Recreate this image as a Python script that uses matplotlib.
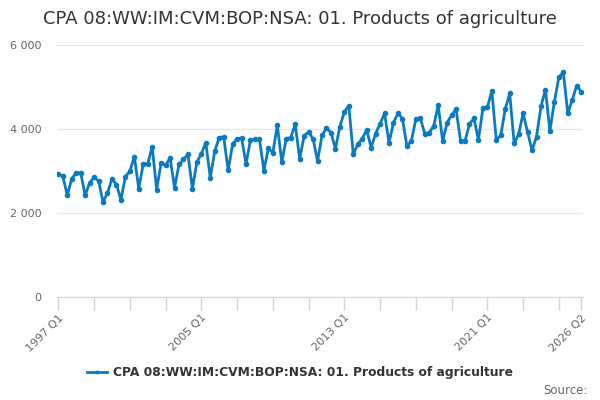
import matplotlib.pyplot as plt
from matplotlib.ticker import FuncFormatter

# quarterly values, 1997 Q1 .. 2026 Q2
values = [
    2935, 2878, 2423, 2823, 2959, 2959, 2423, 2720, 2854, 2768,
    2265, 2480, 2815, 2679, 2320, 2863, 2998, 3342, 2584, 3175,
    3175, 3581, 2560, 3198, 3134, 3318, 2608, 3158, 3278, 3397,
    2584, 3213, 3414, 3677, 2840, 3476, 3797, 3811, 3022, 3636,
    3773, 3787, 3175, 3739, 3756, 3756, 3014, 3541, 3437, 4091,
    3213, 3773, 3797, 4115, 3294, 3835, 3931, 3773, 3237, 3852,
    4019, 3916, 3533, 4059, 4409, 4553, 3397, 3636, 3773, 3979,
    3557, 3892, 4131, 4371, 3677, 4155, 4371, 4251, 3596, 3716,
    4234, 4258, 3892, 3916, 4074, 4569, 3716, 4155, 4330, 4474,
    3716, 3716, 4115, 4258, 3740, 4490, 4514, 4912, 3740, 3852,
    4474, 4849, 3660, 3876, 4371, 3931, 3493, 3820, 4538, 4935,
    3955, 4648, 5232, 5351, 4378, 4696, 5031, 4888,
]
start_year = 1997
quarters = [f"{start_year + i // 4} Q{i % 4 + 1}" for i in range(len(values))]

series_name = "CPA 08:WW:IM:CVM:BOP:NSA: 01. Products of agriculture"
line_color = "#0b7bc1"
axis_color = "#ccd6eb"

fig = plt.figure(figsize=(6, 4), dpi=100)
ax = fig.add_axes([0.095, 0.257, 0.877, 0.6305])

x = list(range(len(values)))
ax.plot(x, values, color=line_color, lw=2, marker="o", ms=3,
        label=series_name, solid_joinstyle="round")

ax.set_ylim(0, 6000)
ax.set_xlim(-0.3, len(values) - 1 + 0.45)
ax.set_yticks([0, 2000, 4000, 6000])
ax.yaxis.set_major_formatter(FuncFormatter(lambda v, p: f"{int(v):,}".replace(",", " ")))
ax.grid(axis="y", color="#e6e6e6", lw=1)
ax.set_axisbelow(True)

# ticks every two years, labels every eight years plus the last quarter
tick_pos = list(range(0, len(values), 8)) + [len(values) - 1]
ax.set_xticks(tick_pos)
label_pos = [0, 32, 64, 96, len(values) - 1]
ax.set_xticklabels([quarters[i] if i in label_pos else "" for i in tick_pos],
                   rotation=45, ha="right", rotation_mode="anchor")

for s in ["top", "right", "left"]:
    ax.spines[s].set_visible(False)
ax.spines["bottom"].set_color(axis_color)
ax.tick_params(axis="x", color=axis_color, length=9, width=1, labelsize=8,
               labelcolor="#666666", pad=2)
ax.tick_params(axis="y", length=0, labelsize=8, labelcolor="#666666", pad=11)

fig.text(0.5, 0.953, series_name, ha="center", va="center", fontsize=13,
         color="#333333")

leg = fig.legend(loc="center", bbox_to_anchor=(0.5, 0.068), frameon=False,
                 handlelength=1.6, handletextpad=0.5, markerscale=0.6,
                 prop={"size": 8.8, "weight": "bold"})
for t in leg.get_texts():
    t.set_color("#333333")

fig.text(0.98, 0.025, "Source:", ha="right", va="center", fontsize=8.5,
         color="#666666")

fig.savefig("out.png", dpi=100)
